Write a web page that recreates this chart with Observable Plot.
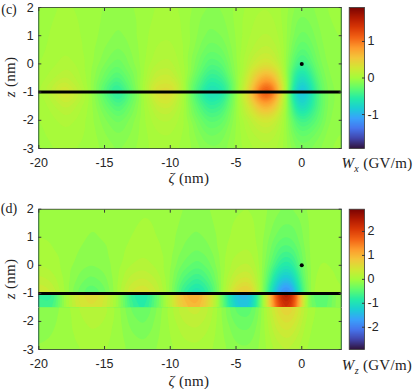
<!DOCTYPE html>
<html>
<head>
<meta charset="utf-8">
<script src="https://cdn.jsdelivr.net/npm/d3@7"></script>
<script src="https://cdn.jsdelivr.net/npm/@observablehq/plot@0.6"></script>
<style>
html,body{margin:0;padding:0;background:#fff;}
#page{position:relative;width:415px;height:389px;overflow:hidden;}
#page svg{position:absolute;display:block;background:transparent;}
.lbl{position:absolute;font-family:"Liberation Serif",serif;font-size:15px;letter-spacing:.3px;color:#222;white-space:nowrap;line-height:1.15;}
.lbl sub{font-size:10px;line-height:0;}
.tag{font-size:14px;letter-spacing:0;}
.rot{transform:translate(-50%,-50%) rotate(-90deg);}
.ctr{transform:translate(-50%,-50%);}
</style>
</head>
<body>
<div id="page"></div>
<script>
// Shared sampling columns (zeta, nm)
const zeta = [-20,-19,-18,-17,-16,-15,-14,-13,-12,-11,-10,-9,-8,-7,-6,-5,-4,-3.5,-3,-2.5,-2,-1.5,-1,-0.5,0,0.5,1,1.5,2,3];
const xTicks = [-20,-15,-10,-5,0];
const yTicks = [-3,-2,-1,0,1,2];
const wxTicks = [-1,0,1];
const wzTicks = [-2,-1,0,1,2];
const wxMax = 1.93;
const wzMax = 2.93;
const wxLevelStep = 0.05;
const wzLevelStep = 0.1;
const wall = [-1];
const probe = [{x:0,z:0}];
const turboStops = ["#30123b","#4145ab","#4675ed","#39a2fc","#1bcfd4","#24eca6","#61fc6c","#a4fc3b","#d1e834","#f3c63a","#fe9b2d","#f36315","#d93806","#b11901","#7a0402"];

// Panel (c): Wx, GV/m, one row per z
const wxZ = [2,1,0.5,0,-0.5,-1,-1.5,-2,-2.5,-3];
const wxRows = [
 [.01,.02,.03,.02,0,-.03,-.05,-.03,0,.03,.04,.01,-.04,-.08,-.07,-.01,.04,.06,.07,.07,.05,.02,-.02,-.08,-.1,-.09,-.07,-.04,-.02,-.01],
 [.01,.03,.05,.03,0,-.05,-.09,-.05,.01,.06,.07,.02,-.07,-.15,-.12,-.02,.07,.1,.13,.13,.1,.04,-.04,-.15,-.2,-.18,-.12,-.07,-.04,-.02],
 [.01,.04,.07,.04,-.01,-.08,-.14,-.07,.01,.09,.1,.03,-.1,-.22,-.18,-.03,.1,.15,.19,.2,.15,.07,-.06,-.22,-.3,-.26,-.16,-.09,-.05,-.03],
 [.02,.06,.1,.06,-.01,-.12,-.22,-.1,.02,.13,.15,.04,-.15,-.33,-.27,-.04,.16,.26,.33,.34,.26,.1,-.1,-.34,-.45,-.36,-.22,-.12,-.06,-.04],
 [.03,.1,.19,.1,-.02,-.2,-.36,-.18,.03,.24,.26,.06,-.25,-.5,-.42,-.06,.32,.55,.75,.78,.58,.24,-.15,-.55,-.72,-.56,-.34,-.18,-.08,-.04],
 [.05,.2,.38,.2,-.02,-.32,-.58,-.28,.05,.42,.45,.08,-.38,-.7,-.6,-.08,.48,.9,1.28,1.32,.98,.38,-.2,-.75,-1.0,-.78,-.45,-.25,-.1,-.05],
 [.03,.1,.2,.1,-.01,-.2,-.36,-.18,.03,.22,.25,.06,-.26,-.48,-.4,-.05,.3,.5,.7,.72,.55,.24,-.14,-.55,-.74,-.62,-.42,-.25,-.1,-.04],
 [.02,.06,.1,.06,-.01,-.11,-.2,-.1,.02,.12,.13,.04,-.15,-.3,-.25,-.03,.14,.22,.29,.3,.23,.1,-.08,-.32,-.42,-.38,-.3,-.2,-.08,-.03],
 [.01,.04,.06,.04,0,-.07,-.13,-.07,.01,.07,.08,.02,-.09,-.19,-.15,-.02,.09,.13,.16,.17,.13,.06,-.05,-.19,-.25,-.23,-.17,-.12,-.05,-.02],
 [.01,.02,.04,.02,0,-.04,-.08,-.04,.01,.05,.05,.01,-.05,-.11,-.1,-.01,.05,.08,.1,.1,.08,.04,-.03,-.11,-.14,-.13,-.1,-.07,-.03,-.01]
];

// Panel (d): Wz, GV/m, split at the discontinuities at z = -1 and z = -1.5
const wzUpperZ = [2,1,0.5,0,-0.5,-1];
const wzUpperRows = [
 [.02,.02,0,-.01,-.03,-.02,0,.02,.04,.02,0,-.05,-.08,-.05,0,.04,.05,.03,-.01,-.06,-.11,-.15,-.15,-.13,-.08,-.03,0,.01,.01,0],
 [.05,.04,0,-.03,-.06,-.04,0,.05,.09,.05,-.01,-.12,-.18,-.12,.01,.08,.1,.05,-.02,-.14,-.26,-.34,-.35,-.3,-.17,-.05,.01,.02,.02,.01],
 [.08,.06,.01,-.05,-.09,-.07,.01,.09,.13,.08,-.01,-.18,-.27,-.18,.02,.13,.17,.09,-.03,-.2,-.4,-.54,-.55,-.45,-.24,-.06,.02,.04,.03,.01],
 [.15,.11,.01,-.09,-.15,-.11,.01,.15,.2,.12,-.02,-.28,-.42,-.27,.03,.22,.28,.14,-.04,-.29,-.6,-.82,-.85,-.65,-.32,-.07,.03,.06,.05,.02],
 [.3,.22,.03,-.17,-.3,-.2,.03,.3,.38,.24,-.04,-.48,-.7,-.45,.05,.42,.52,.26,-.07,-.46,-.98,-1.32,-1.35,-1.0,-.46,-.08,.06,.1,.08,.03],
 [.5,.38,.05,-.28,-.48,-.32,.05,.48,.6,.38,-.05,-.72,-1.05,-.68,.08,.75,.95,.45,-.1,-.68,-1.42,-1.9,-2.0,-1.45,-.62,-.1,.1,.15,.12,.05]
];
const wzMiddleZ = [-1,-1.5];
const wzMiddleRows = [
 [-.7,-.75,.05,.5,.65,.5,0,-.72,-.95,-.35,.3,1.05,1.25,.65,-.4,-1.4,-1.5,-.9,-.1,.7,1.9,2.55,2.7,2.0,.7,-.25,-.4,-.5,-.4,0],
 [-.55,-.6,.04,.42,.55,.42,0,-.6,-.8,-.3,.25,.85,1.05,.55,-.32,-1.2,-1.28,-.76,-.08,.6,1.6,2.15,2.3,1.7,.6,-.2,-.32,-.42,-.34,0]
];
const wzLowerZ = [-1.5,-2,-2.5,-3];
const wzLowerRows = [
 [-.15,-.12,0,.15,.28,.2,0,-.28,-.38,-.15,.1,.35,.42,.25,-.08,-.4,-.45,-.28,-.02,.25,.55,.75,.8,.62,.35,.1,.05,.02,0,0],
 [-.1,-.08,0,.1,.2,.15,0,-.2,-.28,-.1,.07,.26,.32,.18,-.06,-.3,-.33,-.2,-.01,.18,.4,.55,.6,.46,.26,.07,.04,.01,0,0],
 [-.07,-.05,0,.07,.13,.1,0,-.13,-.18,-.07,.05,.17,.2,.12,-.04,-.2,-.22,-.13,-.01,.12,.27,.36,.4,.3,.17,.05,.02,.01,0,0],
 [-.04,-.03,0,.04,.08,.06,0,-.08,-.11,-.04,.03,.1,.12,.07,-.02,-.12,-.13,-.08,0,.07,.16,.22,.24,.18,.1,.03,.01,0,0,0]
];

const tickFont = {fontFamily:"Liberation Sans, Arial, sans-serif", fontSize:12.5, color:"#262626"};
const ink = "#3a3a3a";
const num = d => String(d);
const turbo = d3.piecewise(d3.interpolateRgb, turboStops);
const page = document.getElementById("page");

function table(zs, rows){
  return rows.flatMap((r,i)=>r.map((v,j)=>({x:zeta[j],z:zs[i],v})));
}
function levels(max,step){
  const n = Math.floor(max/step);
  return [-max, ...d3.range(-n,n+1).map(i=>(i-0.5)*step)];
}
function band(zs,rows,max,step){
  return Plot.contour(table(zs,rows),{x:"x",y:"z",fill:"v",stroke:"none",interpolate:"barycentric",
    x1:-20,x2:3,y1:zs[zs.length-1],y2:zs[0],pixelSize:1,blur:3,thresholds:levels(max,step)});
}
function axes(){
  return [
    Plot.axisX({anchor:"bottom",ticks:xTicks,tickFormat:num,tickSize:-3,tickPadding:13,stroke:ink,fill:"#262626",label:null,...tickFont}),
    Plot.axisX({anchor:"top",ticks:xTicks,tickFormat:()=>"",tickSize:-3,stroke:ink,label:null}),
    Plot.axisY({anchor:"left",ticks:yTicks,tickFormat:num,tickSize:-3,tickPadding:8,stroke:ink,fill:"#262626",label:null,...tickFont}),
    Plot.axisY({anchor:"right",ticks:yTicks,tickFormat:()=>"",tickSize:-3,stroke:ink,label:null})
  ];
}
function panel(top,height,mTop,mBottom,max,bands){
  const svg = Plot.plot({
    width:345,height,marginLeft:38.3,marginRight:4.3,marginTop:mTop,marginBottom:mBottom,
    style:{background:"transparent",overflow:"visible"},
    x:{domain:[-20,3]},y:{domain:[-3,2]},
    color:{type:"linear",interpolate:turbo,domain:[-max,max]},
    marks:[
      ...bands,
      Plot.ruleY(wall,{stroke:"#000",strokeWidth:3}),
      Plot.dot(probe,{x:"x",y:"z",r:2,fill:"#000",stroke:"none"}),
      Plot.frame({stroke:ink,strokeWidth:0.8}),
      ...axes()
    ]
  });
  svg.style.left="0px";svg.style.top=top+"px";
  page.appendChild(svg);
}
function colorbar(top,height,mTop,mBottom,max,ticks){
  const svg = Plot.plot({
    width:75,height,marginLeft:8.7,marginRight:51,marginTop:mTop,marginBottom:mBottom,
    style:{background:"transparent",overflow:"visible"},
    x:{domain:[0,1],axis:null},y:{domain:[-max,max],axis:null},
    color:{type:"linear",interpolate:turbo,domain:[-max,max]},
    marks:[
      Plot.raster({x1:0,x2:1,y1:-max,y2:max,fill:(x,y)=>y,pixelSize:1}),
      Plot.frame({stroke:ink,strokeWidth:0.8}),
      Plot.axisY({anchor:"right",ticks,tickFormat:num,tickSize:-3,tickPadding:6,stroke:ink,fill:"#262626",label:null,...tickFont})
    ]
  });
  svg.style.left="340px";svg.style.top=top+"px";
  page.appendChild(svg);
}
function label(html,x,y,cls){
  const d=document.createElement("div");
  d.className="lbl "+(cls||"");
  d.innerHTML=html;d.style.left=x+"px";d.style.top=y+"px";
  page.appendChild(d);
}

panel(0,195,7,47,wxMax,[band(wxZ,wxRows,wxMax,wxLevelStep)]);
colorbar(0,195,7,47,wxMax,wxTicks);
panel(195,194,13.7,40,wzMax,[
  band(wzUpperZ,wzUpperRows,wzMax,wzLevelStep),
  band(wzMiddleZ,wzMiddleRows,wzMax,wzLevelStep),
  band(wzLowerZ,wzLowerRows,wzMax,wzLevelStep)
]);
colorbar(195,194,13.7,40,wzMax,wzTicks);

label("(c)",9,10,"ctr tag");
label("(d)",9,209,"ctr tag");
label("<i>z</i> (nm)",11,77,"rot");
label("<i>z</i> (nm)",11,279,"rot");
label("<i>ζ</i> (nm)",189,179,"ctr");
label("<i>ζ</i> (nm)",189,382,"ctr");
label("<i>W<sub>x</sub></i> (GV/m)",377,164,"ctr");
label("<i>W<sub>z</sub></i> (GV/m)",377,366,"ctr");
</script>
</body>
</html>
